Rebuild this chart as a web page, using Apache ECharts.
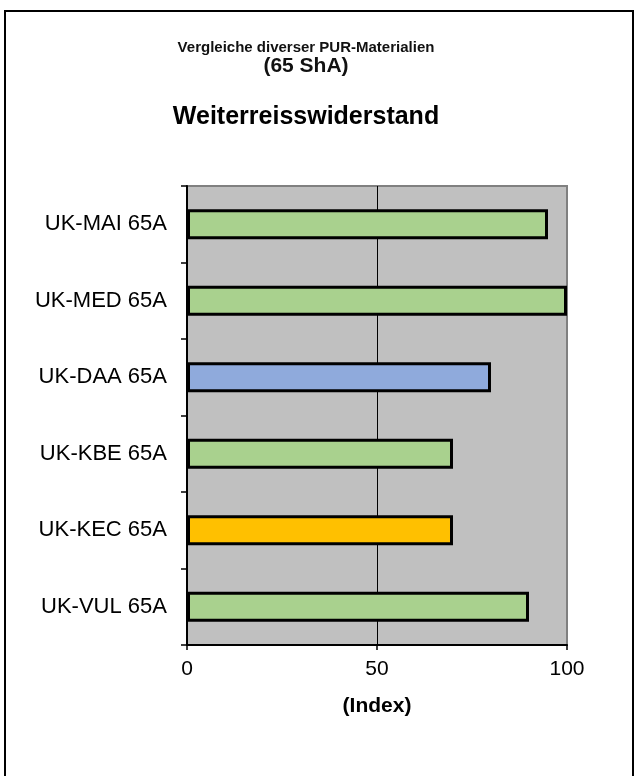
<!DOCTYPE html>
<html>
<head>
<meta charset="utf-8">
<script src="https://cdn.jsdelivr.net/npm/echarts@6/dist/echarts.min.js"></script>
<style>
  html, body { margin: 0; padding: 0; background: #fff; }
  #chart { width: 638px; height: 776px; }
</style>
</head>
<body>
<div id="chart"></div>
<script>
// Materials, top to bottom
const categories = ['UK-MAI 65A', 'UK-MED 65A', 'UK-DAA 65A', 'UK-KBE 65A', 'UK-KEC 65A', 'UK-VUL 65A'];
// Tear resistance index per material
const values = [95, 100, 80, 70, 70, 90];
// Fill per material
const barColors = ['#A9D18E', '#A9D18E', '#8FAADC', '#A9D18E', '#FFC000', '#A9D18E'];
const xTicks = [0, 50, 100];

const chart = echarts.init(document.getElementById('chart'));
const labelFont = '"Liberation Sans", Arial, sans-serif';
const titleX = 306;

chart.setOption({
  animation: false,
  backgroundColor: '#fff',
  graphic: [
    { type: 'rect', shape: { x: 5, y: 11, width: 628, height: 800 },
      style: { fill: 'none', stroke: '#000', lineWidth: 2 }, silent: true, z: -10 },
    { type: 'text', x: titleX, y: 48,
      style: { text: 'Vergleiche diverser PUR-Materialien', font: 'bold 15px ' + labelFont, fill: '#111',
               textAlign: 'center', textVerticalAlign: 'middle' } },
    { type: 'text', x: titleX, y: 66,
      style: { text: '(65 ShA)', font: 'bold 21px ' + labelFont, fill: '#111',
               textAlign: 'center', textVerticalAlign: 'middle' } },
    { type: 'text', x: titleX, y: 117,
      style: { text: 'Weiterreisswiderstand', font: 'bold 25px ' + labelFont, fill: '#000',
               textAlign: 'center', textVerticalAlign: 'middle' } }
  ],
  grid: {
    left: 187, top: 186, right: 71, bottom: 131,
    show: true, backgroundColor: '#C0C0C0', borderColor: '#808080', borderWidth: 2
  },
  xAxis: {
    type: 'value', min: xTicks[0], max: xTicks[xTicks.length - 1], interval: 50,
    name: '(Index)', nameLocation: 'middle', nameGap: 51,
    nameTextStyle: { fontFamily: labelFont, fontWeight: 'bold', fontSize: 21, color: '#000' },
    axisLine: { show: true, lineStyle: { color: '#000', width: 2 } },
    axisTick: { show: true, length: 5, lineStyle: { color: '#000', width: 1.5 } },
    axisLabel: { fontFamily: labelFont, fontSize: 21, color: '#000', margin: 14 },
    splitLine: { show: true, lineStyle: { color: ['#000', '#000', '#808080'], width: 1 } }
  },
  yAxis: {
    type: 'category', data: categories, inverse: true,
    axisLine: { show: true, lineStyle: { color: '#000', width: 2 } },
    axisTick: { show: true, length: 6, lineStyle: { color: '#000', width: 1.5 } },
    axisLabel: { fontFamily: labelFont, fontSize: 22, color: '#000', margin: 20 },
    splitLine: { show: false }
  },
  series: [{
    type: 'bar',
    data: values.map((v, i) => ({ value: v, itemStyle: { color: barColors[i] } })),
    barWidth: 30,
    itemStyle: { borderColor: '#000', borderWidth: 3 }
  }]
});
</script>
</body>
</html>
